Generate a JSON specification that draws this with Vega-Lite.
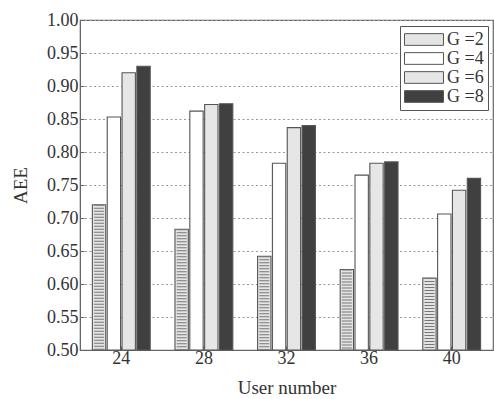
{
  "$schema": "https://vega.github.io/schema/vega-lite/v6.json",
  "width": 413,
  "height": 330,
  "autosize": {"type": "none"},
  "padding": {"left": 80, "top": 20, "right": 1, "bottom": 49},
  "background": "white",
  "config": {
    "font": "Liberation Serif",
    "view": {"stroke": "#666", "strokeWidth": 1.2},
    "axis": {
      "labelFont": "Liberation Serif",
      "titleFont": "Liberation Serif",
      "labelFontSize": 18,
      "titleFontSize": 19,
      "titleFontWeight": "normal",
      "labelColor": "#333",
      "titleColor": "#333",
      "domainColor": "#666",
      "tickColor": "#666"
    }
  },
  "data": {
    "values": [
      {"users": "24", "G": "G =2", "aee": 0.720},
      {"users": "24", "G": "G =4", "aee": 0.853},
      {"users": "24", "G": "G =6", "aee": 0.920},
      {"users": "24", "G": "G =8", "aee": 0.930},
      {"users": "28", "G": "G =2", "aee": 0.683},
      {"users": "28", "G": "G =4", "aee": 0.862},
      {"users": "28", "G": "G =6", "aee": 0.872},
      {"users": "28", "G": "G =8", "aee": 0.873},
      {"users": "32", "G": "G =2", "aee": 0.642},
      {"users": "32", "G": "G =4", "aee": 0.783},
      {"users": "32", "G": "G =6", "aee": 0.837},
      {"users": "32", "G": "G =8", "aee": 0.840},
      {"users": "36", "G": "G =2", "aee": 0.622},
      {"users": "36", "G": "G =4", "aee": 0.765},
      {"users": "36", "G": "G =6", "aee": 0.783},
      {"users": "36", "G": "G =8", "aee": 0.785},
      {"users": "40", "G": "G =2", "aee": 0.609},
      {"users": "40", "G": "G =4", "aee": 0.706},
      {"users": "40", "G": "G =6", "aee": 0.742},
      {"users": "40", "G": "G =8", "aee": 0.760}
    ]
  },
  "encoding": {
    "x": {
      "field": "users", "type": "ordinal",
      "scale": {"paddingInner": 0.3, "paddingOuter": 0.15},
      "axis": {"title": "User number", "labelAngle": 0, "tickSize": -4, "labelPadding": 3, "titlePadding": 11}
    },
    "xOffset": {"field": "G", "type": "nominal", "scale": {"paddingInner": 0.1, "paddingOuter": 0}},
    "y": {
      "field": "aee", "type": "quantitative",
      "scale": {"domain": [0.5, 1.0], "zero": false, "nice": false},
      "axis": {
        "title": "AEE", "format": ".2f", "tickCount": 11, "labelOverlap": false,
        "grid": true, "gridDash": [2, 2.5], "gridColor": "#999", "gridWidth": 1,
        "tickSize": -4, "labelPadding": 6, "titlePadding": 16
      }
    },
    "y2": {"datum": 0.5}
  },
  "layer": [
    {
      "mark": {"type": "bar", "stroke": "#555", "strokeWidth": 1.1},
      "encoding": {
        "fill": {
          "field": "G", "type": "nominal",
          "scale": {"range": ["#e4e4e4", "#ffffff", "#e6e6e6", "#404040"]},
          "legend": {
            "title": null,
            "orient": "none",
            "legendX": 320,
            "legendY": 6,
            "direction": "vertical",
            "symbolType": "M-1,-0.65L3.33,-0.65L3.33,0.65L-1,0.65Z",
            "symbolSize": 324,
            "symbolStrokeColor": "#555",
            "symbolStrokeWidth": 1,
            "labelFont": "Liberation Serif",
            "labelFontSize": 18,
            "labelColor": "#333",
            "labelOffset": 24,
            "rowPadding": 0,
            "padding": 4,
            "strokeColor": "#555",
            "fillColor": "white"
          }
        }
      }
    },
    {
      "transform": [{"filter": "datum.G == 'G =2'"}],
      "mark": {"type": "rule", "strokeWidth": 10, "strokeDash": [1, 2], "color": "#777"},
      "encoding": {}
    }
  ]
}
